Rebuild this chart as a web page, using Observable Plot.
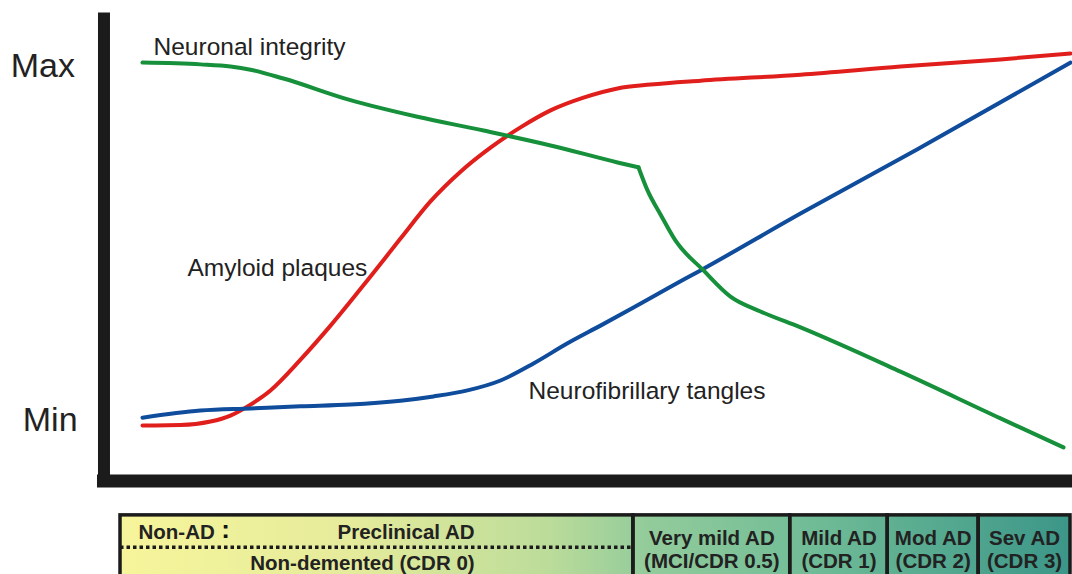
<!DOCTYPE html>
<html>
<head>
<meta charset="utf-8">
<script src="https://cdn.jsdelivr.net/npm/d3@7"></script>
<script src="https://cdn.jsdelivr.net/npm/@observablehq/plot@0.6"></script>
<style>
  html, body { margin: 0; padding: 0; background: #fff; }
  #chart svg { display: block; }
</style>
</head>
<body>
<div id="chart"></div>
<script>
// x: disease progression (0 = start of curves, 100 = end); y: relative level (0 = Min, 1 = Max)
const neuronalEarly = [
  [0, 1.011], [6.25, 1.006], [9.48, 1.000], [11.64, 0.991], [15.19, 0.966],
  [22.41, 0.905], [29.63, 0.858], [36.75, 0.819], [43.97, 0.777], [51.19, 0.729],
  [53.45, 0.715]
];
const neuronalLate = [
  [53.45, 0.715], [54.42, 0.650], [55.82, 0.582], [57.44, 0.508], [60.45, 0.424],
  [63.36, 0.350], [66.59, 0.308], [70.91, 0.263], [81.68, 0.138], [92.46, 0.006],
  [99.25, -0.076]
];
const amyloid = [
  [0, -0.014], [4.09, -0.013], [7.33, -0.003], [9.48, 0.014], [11.64, 0.045],
  [13.79, 0.085], [17.03, 0.172], [20.26, 0.268], [24.57, 0.407], [27.80, 0.514],
  [31.03, 0.619], [34.27, 0.703], [37.50, 0.771], [40.73, 0.828], [43.97, 0.876],
  [47.52, 0.912], [51.19, 0.938], [54.74, 0.949], [60.13, 0.960], [70.91, 0.977],
  [81.68, 1.000], [92.46, 1.020], [100, 1.037]
];
const tangles = [
  [0, 0.008], [6.25, 0.028], [11.64, 0.034], [17.03, 0.040], [22.41, 0.045],
  [27.80, 0.056], [31.36, 0.068], [35.02, 0.085], [38.58, 0.113], [42.13, 0.161],
  [45.80, 0.218], [49.35, 0.268], [52.91, 0.319], [56.57, 0.373], [60.13, 0.424],
  [71.0, 0.586], [83.51, 0.766], [100, 1.011]
];

const curveLabels = [
  {text: "Neuronal integrity", x: 1.19, y: 1.054},
  {text: "Amyloid plaques", x: 4.85, y: 0.429},
  {text: "Neurofibrillary tangles", x: 41.6, y: 0.082}
];
const yTickLabels = [
  {text: "Max", x: -14.2, y: 1},
  {text: "Min", x: -12.9, y: 0}
];

// stage bar
const stageTop = -0.268, stageBottom = -0.50;
const stageCells = [
  {x1: -2.37, x2: 52.9},
  {x1: 52.9, x2: 69.8},
  {x1: 69.8, x2: 80.3},
  {x1: 80.3, x2: 90.1},
  {x1: 90.1, x2: 100}
];
const stageLabelsLeft = [
  {text: "Non-AD", x: -0.43, y: -0.316}
];
const stageColon = [{text: ":", x: 8.95, y: -0.307}];
const stageLabelsCentered = [
  {text: "Preclinical AD", x: 28.4, y: -0.316},
  {text: "Non-demented (CDR 0)", x: 23.7, y: -0.404},
  {text: "Very mild AD", x: 61.35, y: -0.333},
  {text: "(MCI/CDR 0.5)", x: 61.35, y: -0.398},
  {text: "Mild AD", x: 75.05, y: -0.333},
  {text: "(CDR 1)", x: 75.05, y: -0.398},
  {text: "Mod AD", x: 85.2, y: -0.333},
  {text: "(CDR 2)", x: 85.2, y: -0.398},
  {text: "Sev AD", x: 95.05, y: -0.333},
  {text: "(CDR 3)", x: 95.05, y: -0.398}
];
const dottedDivider = [{x1: -2.37, x2: 52.9, y: -0.358}];

// axis frame
const frameX = -4.15, frameTop = 1.151, frameBottomEnd = -0.189;
const frameY = -0.171, frameLeft = -4.85, frameRight = 100.3;

const toRows = arr => arr.map(([x, y]) => ({x, y}));

const chart = Plot.plot({
  width: 1072,
  height: 574,
  margin: 0,
  x: {domain: [0, 100], range: [142, 1070], axis: null},
  y: {domain: [0, 1], range: [420, 66], axis: null},
  style: {background: "white", fontFamily: "'Liberation Sans', Arial, sans-serif", overflow: "visible"},
  marks: [
    // axis frame
    Plot.ruleX([frameX], {y1: frameBottomEnd, y2: frameTop, stroke: "#1b1b1b", strokeWidth: 12}),
    Plot.ruleY([frameY], {x1: frameLeft, x2: frameRight, stroke: "#1b1b1b", strokeWidth: 13}),
    // curves
    Plot.line(toRows(amyloid), {x: "x", y: "y", stroke: "#e01f1c", strokeWidth: 4, curve: "monotone-x"}),
    Plot.line(toRows(tangles), {x: "x", y: "y", stroke: "#0f4c9c", strokeWidth: 4, curve: "monotone-x"}),
    Plot.line(toRows(neuronalEarly), {x: "x", y: "y", stroke: "#16903a", strokeWidth: 4, curve: "monotone-x"}),
    Plot.line(toRows(neuronalLate), {x: "x", y: "y", stroke: "#16903a", strokeWidth: 4, curve: "monotone-x"}),
    // labels
    Plot.text(curveLabels, {x: "x", y: "y", text: "text", textAnchor: "start", fontSize: 24.5, fill: "#222"}),
    Plot.text(yTickLabels, {x: "x", y: "y", text: "text", textAnchor: "start", fontSize: 34, fill: "#222"}),
    // stage bar
    Plot.rect([{x1: stageCells[0].x1, x2: stageCells[stageCells.length - 1].x2}], {
      x1: "x1", x2: "x2", y1: stageBottom, y2: stageTop, fill: "url(#stageGrad)"
    }),
    Plot.ruleY(dottedDivider, {x1: "x1", x2: "x2", y: "y", stroke: "#1b1b1b", strokeWidth: 3.5, strokeDasharray: "3.5,3"}),
    Plot.rect(stageCells, {x1: "x1", x2: "x2", y1: stageBottom, y2: stageTop, fill: "none", stroke: "#1b1b1b", strokeWidth: 3.5}),
    Plot.text(stageLabelsLeft, {x: "x", y: "y", text: "text", textAnchor: "start", fontSize: 20.5, fontWeight: "bold", fill: "#222"}),
    Plot.text(stageColon, {x: "x", y: "y", text: "text", textAnchor: "middle", fontSize: 26, fontWeight: "bold", fill: "#111"}),
    Plot.text(stageLabelsCentered, {x: "x", y: "y", text: "text", textAnchor: "middle", fontSize: 20.5, fontWeight: "bold", fill: "#222"})
  ]
});

const svg = d3.select(chart);
const grad = svg.insert("defs", ":first-child")
  .append("linearGradient")
  .attr("id", "stageGrad")
  .attr("x1", "0").attr("x2", "1").attr("y1", "0").attr("y2", "0");
[["0%", "#f7f59b"], ["25%", "#e4eb9b"], ["45%", "#bcdc9a"], ["55%", "#94cc9b"],
 ["72%", "#72bd97"], ["85%", "#58ab90"], ["100%", "#3c9688"]].forEach(([o, c]) => {
  grad.append("stop").attr("offset", o).attr("stop-color", c);
});

document.getElementById("chart").appendChild(chart);
</script>
</body>
</html>
